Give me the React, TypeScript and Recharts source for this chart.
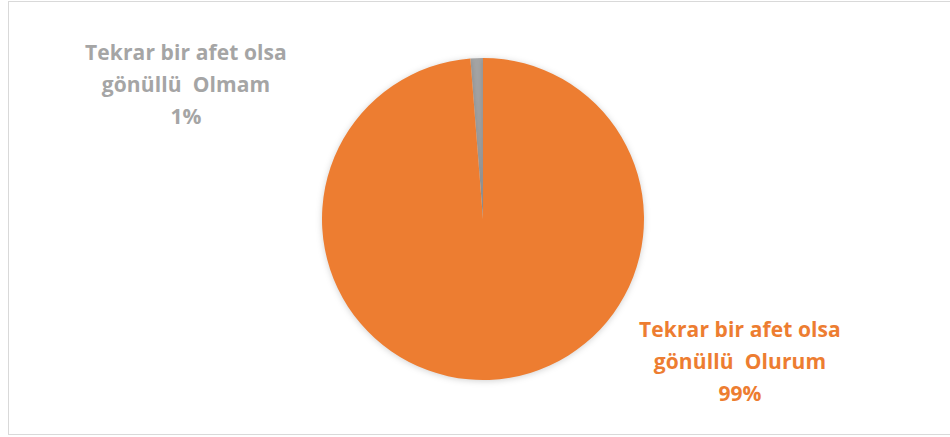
import React from "react"
import { PieChart, Pie, Cell } from "recharts"

const categories = ["Tekrar bir afet olsa gönüllü  Olmam", "Tekrar bir afet olsa gönüllü  Olurum"]
const labelLines = [
  ["Tekrar bir afet olsa", "gönüllü  Olmam", "1%"],
  ["Tekrar bir afet olsa", "gönüllü  Olurum", "99%"],
]
const values = [1.25, 98.75]
const colors = ["#a5a5a5", "#ed7d31"]

// label block positions, relative to the pie centre (Excel "best fit" placement)
const labelOffsets = [
  { dx: -297, dy: -159 },
  { dx: 257, dy: 118 },
]

const data = categories.map((name, i) => ({ name, value: values[i] }))

const renderLabel = (props: any) => {
  const { cx, cy, index } = props
  const off = labelOffsets[index]
  return (
    <text
      x={cx + off.dx}
      y={cy + off.dy}
      textAnchor="middle"
      fill={colors[index]}
      fontFamily="'Open Sans', sans-serif"
      fontWeight={700}
      fontSize={21}
      letterSpacing={0.1}
      style={{ whiteSpace: "pre" }}
    >
      {labelLines[index].map((line, j) => (
        <tspan key={j} x={cx + off.dx} dy={j === 0 ? 0 : 32}>
          {line}
        </tspan>
      ))}
    </text>
  )
}

export default function App() {
  return (
    <div
      style={{
        position: "absolute",
        left: 8,
        top: 1,
        width: 960,
        height: 432,
        border: "1px solid #d9d9d9",
        background: "#fff",
      }}
    >
      <style>{`.recharts-pie-sector path { filter: drop-shadow(0px 1px 3px rgba(0,0,0,0.18)); }`}</style>
      <PieChart width={942} height={432} margin={{ top: 0, right: 0, bottom: 0, left: 0 }}>
        <Pie
          data={data}
          dataKey="value"
          nameKey="name"
          cx={474}
          cy={217}
          outerRadius={161}
          startAngle={90}
          endAngle={450}
          stroke="none"
          label={renderLabel}
          labelLine={false}
          isAnimationActive={false}
        >
          {data.map((d, i) => (
            <Cell key={d.name} fill={colors[i]} />
          ))}
        </Pie>
      </PieChart>
    </div>
  )
}
